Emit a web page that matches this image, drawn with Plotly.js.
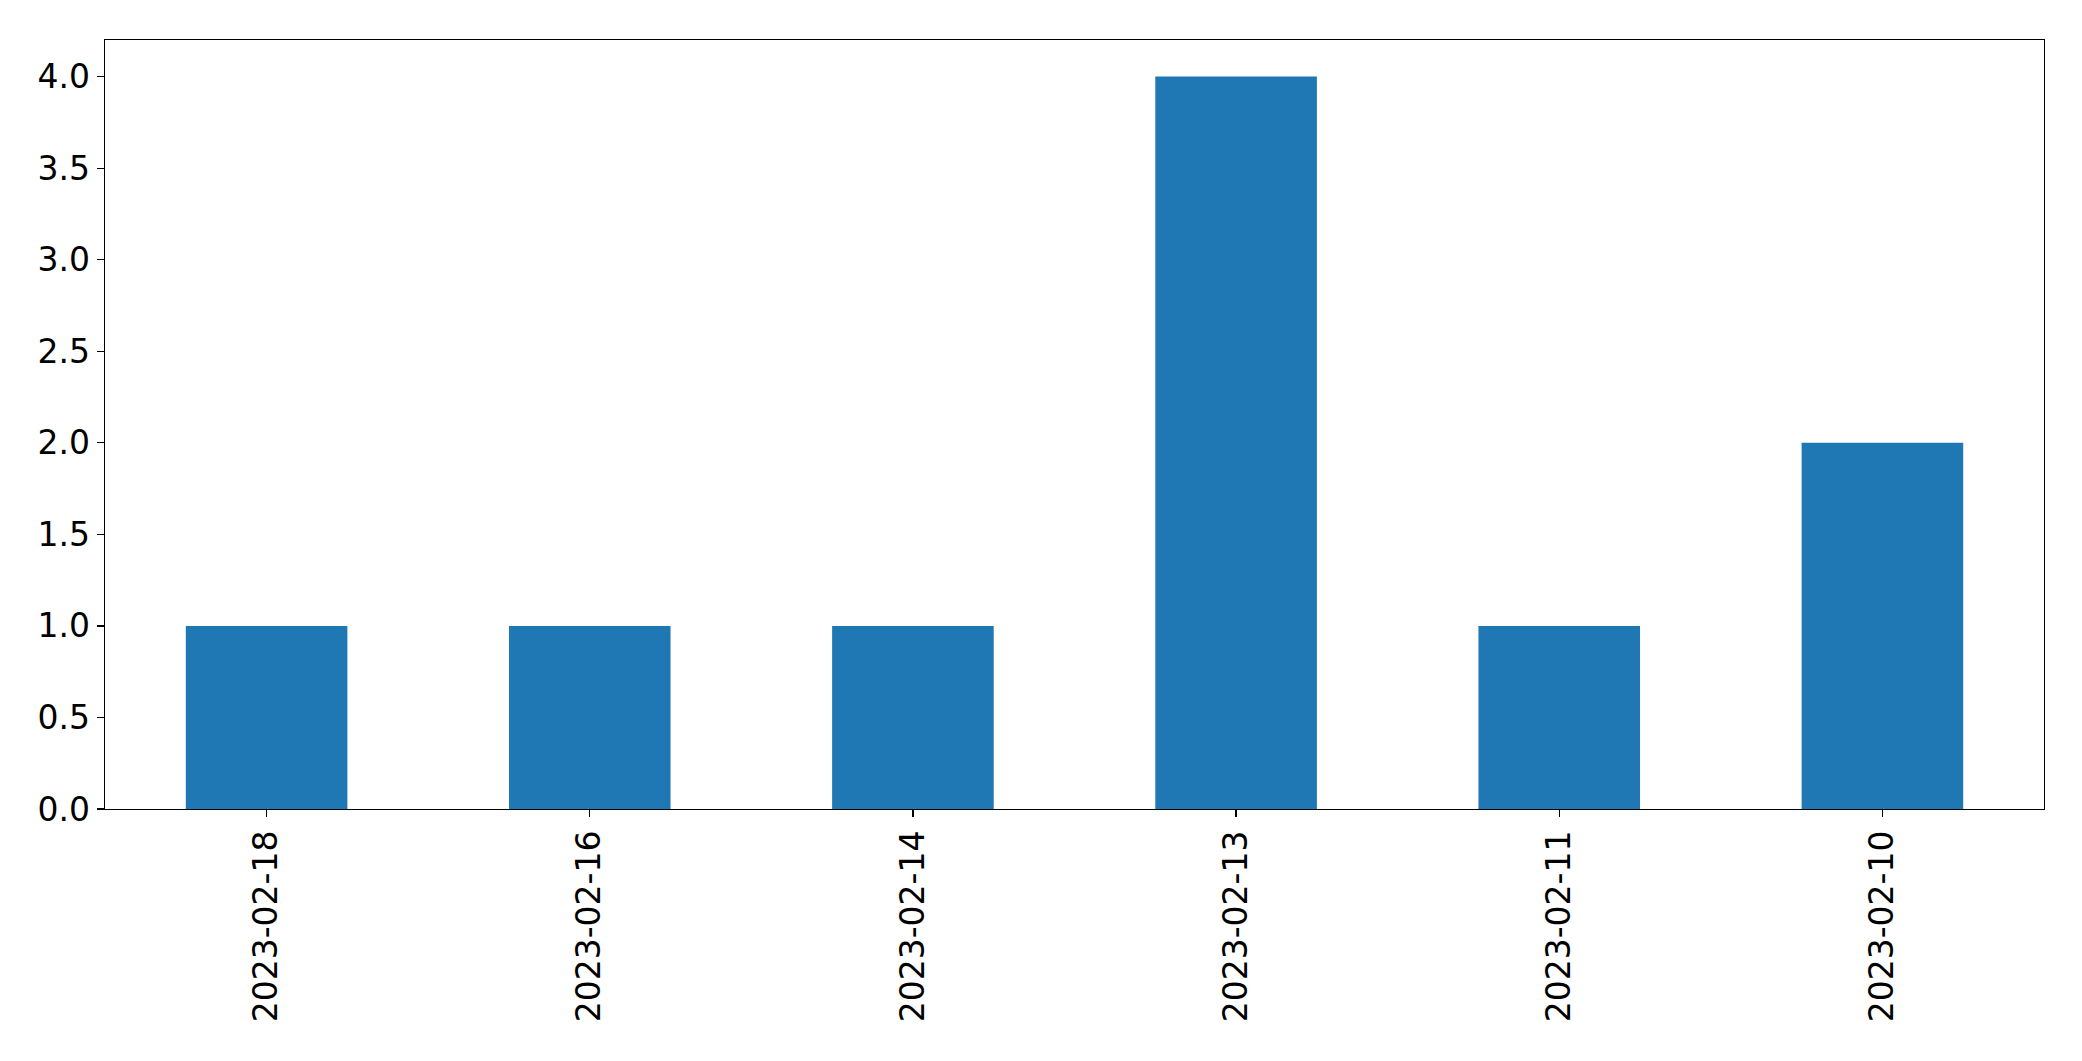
<!DOCTYPE html>
<html>
<head>
<meta charset="utf-8">
<script src="https://cdn.plot.ly/plotly-3.0.1.min.js"></script>
<style>
html, body { margin: 0; padding: 0; background: #fff; }
#chart { width: 2082px; height: 1061px; }
</style>
</head>
<body>
<div id="chart"></div>
<script>
const dates = ["2023-02-18", "2023-02-16", "2023-02-14", "2023-02-13", "2023-02-11", "2023-02-10"];
const counts = [1, 1, 1, 4, 1, 2];
const yTicks = [0, 0.5, 1, 1.5, 2, 2.5, 3, 3.5, 4];

const trace = {
  type: 'bar',
  x: dates,
  y: counts,
  marker: { color: '#1f77b4', line: { width: 0 } },
  hoverinfo: 'x+y'
};

const axisFont = { family: 'DejaVu Sans, sans-serif', size: 33, color: '#000' };

const layout = {
  width: 2082,
  height: 1061,
  paper_bgcolor: '#fff',
  plot_bgcolor: '#fff',
  margin: { l: 105, r: 38, t: 40, b: 252, pad: 0 },
  bargap: 0.5,
  showlegend: false,
  font: axisFont,
  xaxis: {
    type: 'category',
    range: [-0.5, 5.5],
    tickangle: -90,
    tickfont: axisFont,
    ticks: 'outside',
    ticklen: 7,
    tickwidth: 1.3,
    tickcolor: '#000',
    showline: true,
    linecolor: '#000',
    linewidth: 1.3,
    mirror: true,
    showgrid: false,
    zeroline: false,
    automargin: false
  },
  yaxis: {
    range: [0, 4.2],
    tickvals: yTicks,
    tickformat: '.1f',
    tickfont: axisFont,
    ticks: 'outside',
    ticklen: 7,
    tickwidth: 1.3,
    tickcolor: '#000',
    showline: true,
    linecolor: '#000',
    linewidth: 1.3,
    mirror: true,
    showgrid: false,
    zeroline: false,
    automargin: false
  }
};

Plotly.newPlot('chart', [trace], layout, { displayModeBar: false, staticPlot: true });
</script>
</body>
</html>
